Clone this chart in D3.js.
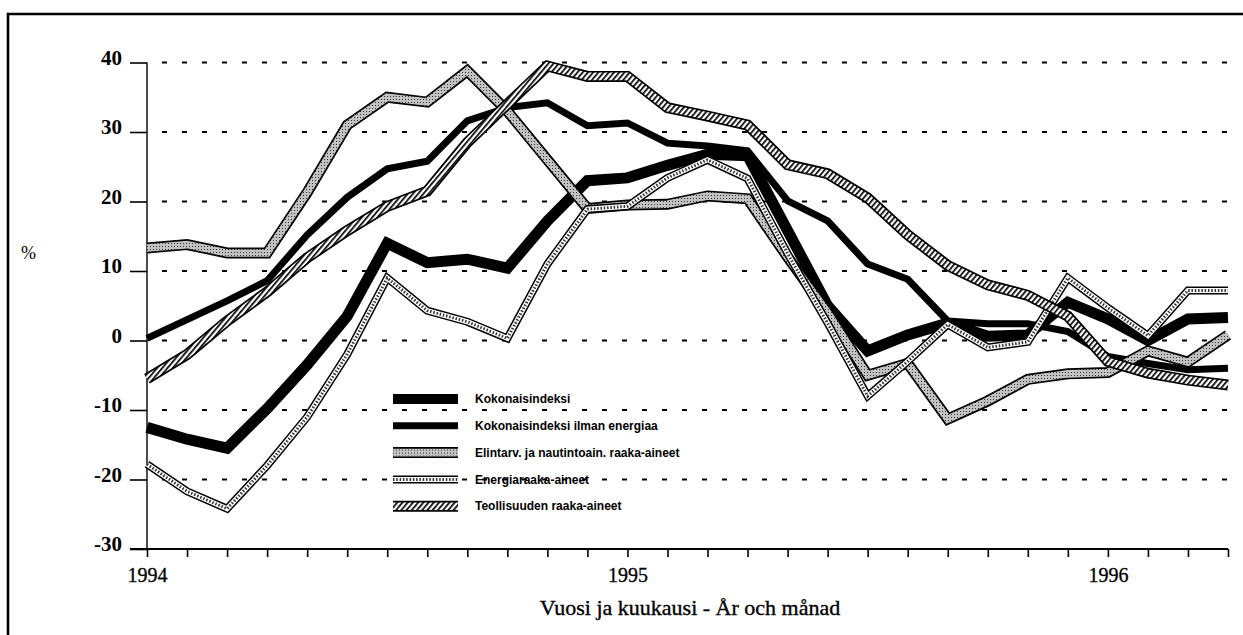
<!DOCTYPE html>
<html>
<head>
<meta charset="utf-8">
<script src="https://cdn.jsdelivr.net/npm/d3@7"></script>
<style>
  html, body { margin: 0; padding: 0; background: #fff; }
  svg { display: block; }
</style>
</head>
<body>
<div id="chart"></div>
<script>
// months on the x axis, Jan 1994 .. Apr 1996
const months = [
  "1994-01","1994-02","1994-03","1994-04","1994-05","1994-06","1994-07","1994-08","1994-09","1994-10","1994-11","1994-12",
  "1995-01","1995-02","1995-03","1995-04","1995-05","1995-06","1995-07","1995-08","1995-09","1995-10","1995-11","1995-12",
  "1996-01","1996-02","1996-03","1996-04"
];
const yearTicks = ["1994-01", "1995-01", "1996-01"];
const yearLabels = ["1994", "1995", "1996"];
const yTicks = [-30, -20, -10, 0, 10, 20, 30, 40];
const gridValues = [-20, -10, 0, 10, 20, 30, 40];

const kokonais   = [-12.5,-14.2,-15.5,-9.8,-3.5,3.5,14.0,11.2,11.7,10.4,17.2,23.0,23.4,25.2,26.8,26.6,15.8,5.0,-1.5,0.8,2.5,0.6,0.8,5.5,3.1,0.0,3.1,3.3];
const ilmanEnerg = [0.3,3.0,5.7,8.6,15.2,20.6,24.7,25.8,31.6,33.5,34.2,30.9,31.3,28.4,28.0,27.3,20.1,17.2,11.0,8.8,2.8,2.4,2.4,1.3,-2.3,-3.3,-4.2,-4.0];
const elintarv   = [13.3,13.8,12.6,12.6,21.3,31.0,35.0,34.3,38.8,33.0,26.0,19.0,19.5,19.6,20.8,20.4,12.0,4.0,-5.0,-3.3,-11.3,-8.7,-5.6,-4.8,-4.6,-1.5,-3.1,0.8];
const energia    = [-17.8,-21.7,-24.2,-18.0,-11.0,-2.0,9.0,4.3,2.7,0.3,11.0,18.9,19.3,23.4,26.0,23.3,12.5,2.5,-8.0,-3.0,2.3,-1.0,-0.2,9.0,4.7,0.7,7.2,7.2];
const teollisuus = [-5.5,-2.0,2.8,7.0,11.9,15.8,19.3,21.5,28.5,34.0,39.5,38.0,38.0,33.5,32.3,31.0,25.3,24.0,20.5,15.2,10.8,8.0,6.5,3.5,-3.0,-4.7,-5.7,-6.4];

const seriesNames = [
  "Kokonaisindeksi",
  "Kokonaisindeksi ilman energiaa",
  "Elintarv. ja nautintoain. raaka-aineet",
  "Energiaraaka-aineet",
  "Teollisuuden raaka-aineet"
];

const W = 1243, H = 635;
const serif = "'Liberation Serif', 'Times New Roman', serif";
const svg = d3.select("#chart").append("svg").attr("width", W).attr("height", H);
svg.append("rect").attr("width", W).attr("height", H).attr("fill", "#fff");

const defs = svg.append("defs");
// gray stipple
const stip = defs.append("pattern").attr("id", "stipple")
  .attr("patternUnits", "userSpaceOnUse").attr("width", 3).attr("height", 3);
stip.append("rect").attr("width", 3).attr("height", 3).attr("fill", "#c2c2c2");
stip.append("rect").attr("width", 1).attr("height", 1).attr("fill", "#333");
// diagonal hatch
const hatch = defs.append("pattern").attr("id", "hatch")
  .attr("patternUnits", "userSpaceOnUse").attr("width", 4).attr("height", 4)
  .attr("patternTransform", "rotate(40)");
hatch.append("rect").attr("width", 4).attr("height", 4).attr("fill", "#fff");
hatch.append("rect").attr("width", 1.7).attr("height", 4).attr("fill", "#000");

// frame
svg.append("path")
  .attr("d", `M8,${H + 5} L8,14 L${W + 5},14`)
  .attr("fill", "none").attr("stroke", "#000").attr("stroke-width", 2.6);

const x = d3.scalePoint().domain(months).range([147, 1228]);
const y = d3.scaleLinear().domain([-30, 40]).range([549, 62.5]);

// gridlines
svg.append("g").selectAll("line")
  .data(gridValues)
  .enter().append("line")
  .attr("x1", x(months[0])).attr("x2", x(months[months.length - 1]))
  .attr("y1", d => y(d)).attr("y2", d => y(d))
  .attr("stroke", "#000").attr("stroke-width", 2)
  .attr("stroke-dasharray", "5,15").attr("stroke-dashoffset", -15);

// y axis
const yAxis = svg.append("g").attr("transform", `translate(${x(months[0])},0)`)
  .call(d3.axisLeft(y).tickValues(yTicks).tickSize(17).tickPadding(8)
    .tickFormat(d => String(d)));
yAxis.select(".domain").remove();
yAxis.selectAll(".tick line").attr("stroke-width", 1.6);
yAxis.selectAll("text")
  .attr("dy", "0.08em")
  .style("font-family", serif)
  .style("font-size", "21px").style("font-weight", "bold").attr("fill", "#000");
svg.append("line")
  .attr("x1", x(months[0])).attr("x2", x(months[0]))
  .attr("y1", y(40)).attr("y2", y(-30))
  .attr("stroke", "#000").attr("stroke-width", 1.4);

// x axis
const xAxis = svg.append("g").attr("transform", `translate(0,${y(-30)})`)
  .call(d3.axisBottom(x).tickSize(8).tickPadding(11)
    .tickFormat(d => {
      const k = yearTicks.indexOf(d);
      return k >= 0 ? yearLabels[k] : "";
    }));
xAxis.select(".domain").remove();
xAxis.selectAll(".tick line").attr("stroke-width", 1.6);
xAxis.selectAll("text")
  .style("font-family", serif)
  .style("font-size", "20px").attr("fill", "#000")
  .attr("stroke", "#000").attr("stroke-width", 0.3);
svg.append("line")
  .attr("x1", 130).attr("x2", x(months[months.length - 1]))
  .attr("y1", y(-30)).attr("y2", y(-30))
  .attr("stroke", "#000").attr("stroke-width", 1.8);

// axis titles
svg.append("text").attr("x", 21).attr("y", 259).text("%")
  .style("font-family", serif)
  .style("font-size", "18px");
svg.append("text").attr("x", 690).attr("y", 615).attr("text-anchor", "middle")
  .text("Vuosi ja kuukausi - År och månad")
  .style("font-family", serif)
  .style("font-size", "22px")
  .attr("stroke", "#000").attr("stroke-width", 0.35);

// line styles: list of stroke layers per series
const styles = [
  [{ stroke: "#000", width: 11 }],
  [{ stroke: "#000", width: 7 }],
  [{ stroke: "#000", width: 11 }, { stroke: "url(#stipple)", width: 7.6 }],
  [{ stroke: "#000", width: 8 }, { stroke: "#fff", width: 5 }, { stroke: "#333", width: 3, dash: "1.5,1.8" }],
  [{ stroke: "#000", width: 11 }, { stroke: "url(#hatch)", width: 7.6 }]
];
const allSeries = [kokonais, ilmanEnerg, elintarv, energia, teollisuus];

const line = d3.line()
  .x((d, i) => x(months[i]))
  .y(d => y(d));

const lines = svg.append("g");
allSeries.forEach((vals, s) => {
  styles[s].forEach(st => {
    lines.append("path")
      .datum(vals)
      .attr("d", line)
      .attr("fill", "none")
      .attr("stroke", st.stroke)
      .attr("stroke-width", st.width)
      .attr("stroke-linejoin", "miter")
      .attr("stroke-miterlimit", 3)
      .attr("stroke-dasharray", st.dash || null);
  });
});

// legend
const legend = svg.append("g").attr("transform", "translate(393,399)");
seriesNames.forEach((name, s) => {
  const row = legend.append("g").attr("transform", `translate(0,${s * 26.8})`);
  styles[s].forEach(st => {
    row.append("line")
      .attr("x1", 0).attr("x2", 65).attr("y1", 0).attr("y2", 0)
      .attr("stroke", st.stroke)
      .attr("stroke-width", s === 0 ? st.width - 1 : st.width)
      .attr("stroke-dasharray", st.dash || null);
  });
  row.append("text")
    .attr("x", 82).attr("y", 0).attr("dy", "0.35em")
    .text(name)
    .style("font-family", "'Liberation Sans', Arial, sans-serif")
    .style("font-size", "12px").style("font-weight", "bold");
});
</script>
</body>
</html>
